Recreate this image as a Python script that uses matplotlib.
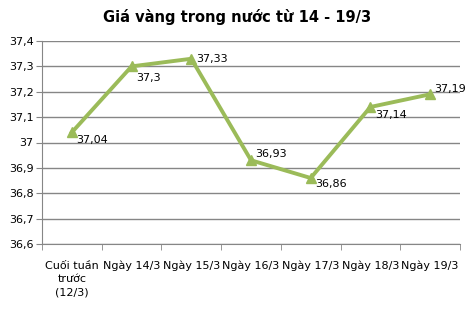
import matplotlib
matplotlib.use("Agg")
import matplotlib.pyplot as plt
import numpy as np

categories = ["Cuối tuần\ntrước\n(12/3)", "Ngày 14/3", "Ngày 15/3", "Ngày 16/3",
              "Ngày 17/3", "Ngày 18/3", "Ngày 19/3"]
prices = [37.04, 37.30, 37.33, 36.93, 36.86, 37.14, 37.19]
yticks = [36.6, 36.7, 36.8, 36.9, 37.0, 37.1, 37.2, 37.3, 37.4]
# label nudges (px up) as placed in the original
label_dy = [-8, -12, 0, 6, -6, -8, 5]

def fmt(v):
    return f"{v:g}".replace(".", ",")

green = "#9BBB59"
grid = "#868686"

fig = plt.figure(figsize=(4.74, 3.11), dpi=100)
ax = fig.add_axes([42/474, 67/311, 418/474, 203/311])
x = np.arange(len(prices))
ax.plot(x, prices, color=green, lw=2.8, marker="^", ms=7, zorder=3)
for xi, v, dy in zip(x, prices, label_dy):
    ax.annotate(fmt(v), (xi, v), xytext=(4.5*0.72, dy*0.72), textcoords="offset points",
                ha="left", va="center", fontsize=8, color="black", zorder=4)

ax.set_xlim(-0.5, len(prices) - 0.5)
ax.set_ylim(36.6, 37.4)
ax.set_yticks(yticks)
ax.set_yticklabels([fmt(v) for v in yticks], fontsize=8)
ax.set_xticks(x)
ax.set_xticklabels(categories, fontsize=8, linespacing=1.45)
ax.set_xticks(np.arange(-0.5, len(prices)), minor=True)
ax.tick_params(axis="x", which="major", length=0, pad=12)
ax.tick_params(axis="x", which="minor", length=4, color=grid)
ax.tick_params(axis="y", length=4, color=grid, pad=2)
ax.yaxis.grid(True, color=grid, lw=1)
ax.set_axisbelow(True)
for s in ["top", "right"]:
    ax.spines[s].set_visible(False)
for s in ["left", "bottom"]:
    ax.spines[s].set_color(grid)

fig.text(0.5, 0.945, "Giá vàng trong nước từ 14 - 19/3", ha="center", va="center",
         fontsize=10.5, fontweight="bold")
fig.savefig("out.png", dpi=100)
